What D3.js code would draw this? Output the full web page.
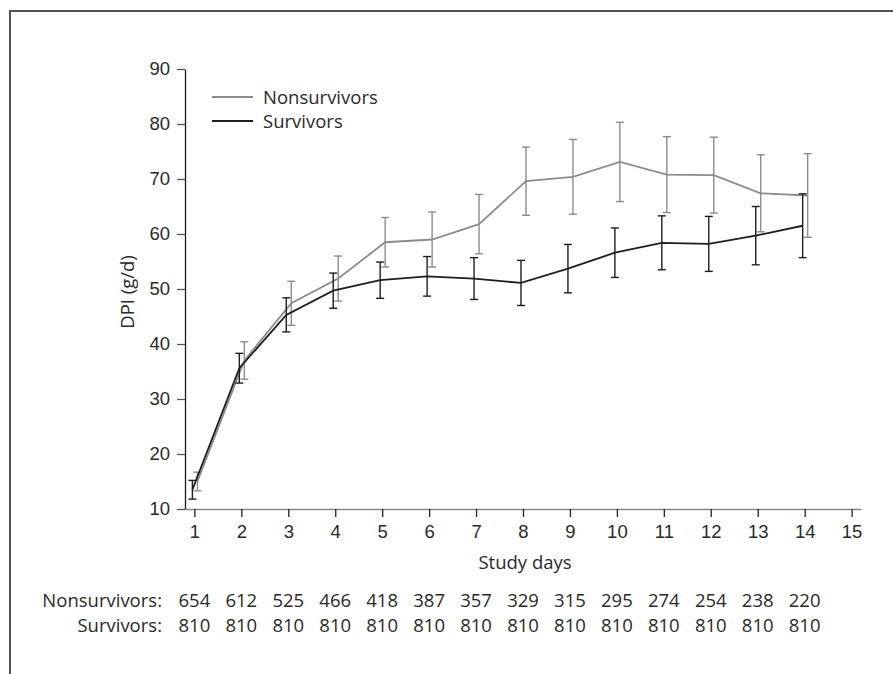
<!DOCTYPE html>
<html>
<head>
<meta charset="utf-8">
<script src="https://cdn.jsdelivr.net/npm/d3@7"></script>
<style>
  body { margin: 0; background: #fff; }
  svg { display: block; font-family: "Open Sans", "Noto Sans", sans-serif; }
  .axis text { font-size: 18.5px; fill: #2a2a2a; }
  .lbl { font-size: 18.5px; fill: #2a2a2a; }
</style>
</head>
<body>
<svg id="chart"></svg>
<script>
// study days and per-day values
const days = [1, 2, 3, 4, 5, 6, 7, 8, 9, 10, 11, 12, 13, 14];
const xTicks = [1, 2, 3, 4, 5, 6, 7, 8, 9, 10, 11, 12, 13, 14, 15];
const yTicks = [10, 20, 30, 40, 50, 60, 70, 80, 90];

const nonsurvMean = [15.0, 37.0, 47.4, 51.9, 58.5, 59.0, 61.8, 69.6, 70.4, 73.1, 70.8, 70.7, 67.4, 67.0];
const nonsurvErr  = [1.7, 3.4, 4.0, 4.1, 4.5, 5.0, 5.4, 6.2, 6.8, 7.2, 6.9, 6.9, 7.0, 7.6];
const survMean    = [13.5, 35.6, 45.3, 49.7, 51.6, 52.3, 51.9, 51.1, 53.7, 56.6, 58.4, 58.2, 59.7, 61.5];
const survErr     = [1.7, 2.7, 3.1, 3.2, 3.3, 3.6, 3.8, 4.1, 4.4, 4.5, 4.9, 5.0, 5.3, 5.8];

const nonsurvN = [654, 612, 525, 466, 418, 387, 357, 329, 315, 295, 274, 254, 238, 220];
const survN    = [810, 810, 810, 810, 810, 810, 810, 810, 810, 810, 810, 810, 810, 810];

const width = 893, height = 674;
const svg = d3.select("#chart").attr("width", width).attr("height", height);

svg.append("rect").attr("width", width).attr("height", height).attr("fill", "#fff");

// outer frame (top + left edge)
svg.append("path")
    .attr("d", `M10,${height} V11 H${width}`)
    .attr("fill", "none")
    .attr("stroke", "#555")
    .attr("stroke-width", 2);

const x = d3.scaleLinear().domain([0.8, 15.2]).range([185, 861]);
const y = d3.scaleLinear().domain([10, 90]).range([509, 69]);

// y axis
const yAxis = svg.append("g")
    .attr("class", "axis")
    .attr("transform", "translate(185,0)")
    .call(d3.axisLeft(y).tickValues(yTicks).tickSize(8).tickPadding(7).tickSizeOuter(0));
yAxis.select(".domain").attr("stroke", "#1a1a1a").attr("stroke-width", 1.3);
yAxis.selectAll(".tick line").attr("stroke", "#555").attr("stroke-width", 1.3);

// x axis
const xAxis = svg.append("g")
    .attr("class", "axis")
    .attr("transform", "translate(0,509)")
    .call(d3.axisBottom(x).tickValues(xTicks).tickSize(8).tickPadding(8).tickSizeOuter(0));
xAxis.select(".domain").attr("stroke", "#888").attr("stroke-width", 1.5);
xAxis.selectAll(".tick line").attr("stroke", "#222").attr("stroke-width", 1.3);

// axis titles
svg.append("text").attr("class", "lbl")
    .attr("transform", "translate(134,292) rotate(-90)")
    .attr("text-anchor", "middle")
    .text("DPI (g/d)");

svg.append("text").attr("class", "lbl")
    .attr("x", 525).attr("y", 569)
    .attr("text-anchor", "middle")
    .text("Study days");

// series
const series = [
    { name: "Nonsurvivors", mean: nonsurvMean, err: nonsurvErr, color: "#8c8c8c", dx: 3 },
    { name: "Survivors", mean: survMean, err: survErr, color: "#1e1e1e", dx: -2 }
];

const cap = 4;
series.forEach(s => {
    const pts = days.map((d, i) => ({ d, m: s.mean[i], e: s.err[i] }));
    const g = svg.append("g");

    const bars = g.selectAll("g.eb").data(pts).enter().append("g").attr("class", "eb")
        .attr("stroke", s.color).attr("stroke-width", 1.4);
    bars.append("line")
        .attr("x1", p => x(p.d) + s.dx).attr("x2", p => x(p.d) + s.dx)
        .attr("y1", p => y(p.m + p.e)).attr("y2", p => y(p.m - p.e));
    bars.append("line")
        .attr("x1", p => x(p.d) + s.dx - cap).attr("x2", p => x(p.d) + s.dx + cap)
        .attr("y1", p => y(p.m + p.e)).attr("y2", p => y(p.m + p.e));
    bars.append("line")
        .attr("x1", p => x(p.d) + s.dx - cap).attr("x2", p => x(p.d) + s.dx + cap)
        .attr("y1", p => y(p.m - p.e)).attr("y2", p => y(p.m - p.e));

    g.append("path")
        .datum(pts)
        .attr("fill", "none")
        .attr("stroke", s.color)
        .attr("stroke-width", 1.8)
        .attr("d", d3.line().x(p => x(p.d) + s.dx).y(p => y(p.m)));
});

// legend
const legend = svg.append("g");
series.forEach((s, i) => {
    const ly = 97 + i * 24;
    legend.append("line")
        .attr("x1", 212).attr("x2", 253).attr("y1", ly).attr("y2", ly)
        .attr("stroke", s.color).attr("stroke-width", 1.8);
    legend.append("text").attr("class", "lbl")
        .attr("x", 263).attr("y", ly + 6.5)
        .text(s.name);
});

// numbers at risk table
const rows = [
    { label: "Nonsurvivors:", vals: nonsurvN, y: 607 },
    { label: "Survivors:", vals: survN, y: 632 }
];
rows.forEach(r => {
    svg.append("text").attr("class", "lbl")
        .attr("x", 162).attr("y", r.y)
        .attr("text-anchor", "end")
        .text(r.label);
    svg.append("g").selectAll("text").data(r.vals).enter().append("text")
        .attr("class", "lbl")
        .attr("x", (v, i) => x(days[i]))
        .attr("y", r.y)
        .attr("text-anchor", "middle")
        .text(v => v);
});
</script>
</body>
</html>
